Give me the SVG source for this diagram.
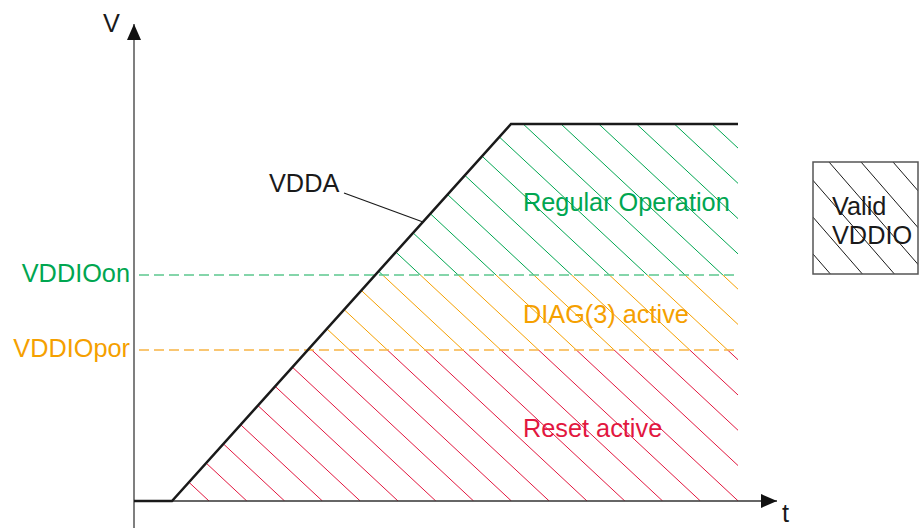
<svg xmlns="http://www.w3.org/2000/svg" xmlns:xlink="http://www.w3.org/1999/xlink" width="919" height="528" viewBox="0 0 919 528">
<style>
text{font-family:"Liberation Sans",Arial,sans-serif;font-size:25.3px}
.green{fill:#00A651}.orange{fill:#F5A000}.red{fill:#E2173F}.black{fill:#1a1a1a}
.hatch line{stroke-width:1}
.dash{stroke-width:1.3;stroke-dasharray:10,5;fill:none}
</style>
<defs>
<marker id="arr" markerWidth="16" markerHeight="14" refX="16" refY="7" orient="auto" markerUnits="userSpaceOnUse">
<path d="M0,0 L16,7 L0,14 Z" fill="#111"/>
</marker>
<g id="hl">
<line x1="171.2" y1="501" x2="-232.8" y2="124"/>
<line x1="209" y1="501" x2="-195" y2="124"/>
<line x1="246.8" y1="501" x2="-157.2" y2="124"/>
<line x1="284.6" y1="501" x2="-119.4" y2="124"/>
<line x1="322.4" y1="501" x2="-81.6" y2="124"/>
<line x1="360.2" y1="501" x2="-43.8" y2="124"/>
<line x1="398" y1="501" x2="-6" y2="124"/>
<line x1="435.8" y1="501" x2="31.8" y2="124"/>
<line x1="473.6" y1="501" x2="69.6" y2="124"/>
<line x1="511.4" y1="501" x2="107.4" y2="124"/>
<line x1="549.2" y1="501" x2="145.2" y2="124"/>
<line x1="587" y1="501" x2="183" y2="124"/>
<line x1="624.8" y1="501" x2="220.8" y2="124"/>
<line x1="662.6" y1="501" x2="258.6" y2="124"/>
<line x1="700.4" y1="501" x2="296.4" y2="124"/>
<line x1="738.2" y1="501" x2="334.2" y2="124"/>
<line x1="776" y1="501" x2="372" y2="124"/>
<line x1="813.8" y1="501" x2="409.8" y2="124"/>
<line x1="851.6" y1="501" x2="447.6" y2="124"/>
<line x1="889.4" y1="501" x2="485.4" y2="124"/>
<line x1="927.2" y1="501" x2="523.2" y2="124"/>
<line x1="965" y1="501" x2="561" y2="124"/>
<line x1="1002.8" y1="501" x2="598.8" y2="124"/>
<line x1="1040.6" y1="501" x2="636.6" y2="124"/>
<line x1="1078.4" y1="501" x2="674.4" y2="124"/>
<line x1="1116.2" y1="501" x2="712.2" y2="124"/>
</g>
<clipPath id="cg"><polygon points="375.2,275 511,124 738,124 738,275"/></clipPath>
<clipPath id="co"><polygon points="307.8,350 375.2,275 738,275 738,350"/></clipPath>
<clipPath id="cr"><polygon points="172,501 307.8,350 738,350 738,501"/></clipPath>
<clipPath id="cb"><rect x="813" y="162" width="105" height="112"/></clipPath>
</defs>

<g id="hatching" class="hatch">
<use xlink:href="#hl" href="#hl" stroke="#00A651" clip-path="url(#cg)"/>
<use xlink:href="#hl" href="#hl" stroke="#F5A000" clip-path="url(#co)"/>
<use xlink:href="#hl" href="#hl" stroke="#E2173F" clip-path="url(#cr)"/>
</g>

<g id="thresholds">
<line class="dash" x1="139" y1="275" x2="738" y2="275" stroke="#5CC78E"/>
<line class="dash" x1="139" y1="350" x2="738" y2="350" stroke="#F7B444"/>
</g>

<g id="axes">
<line x1="134" y1="528" x2="134" y2="24" stroke="#555" stroke-width="1.5" marker-end="url(#arr)"/>
<line x1="134" y1="501" x2="777" y2="501" stroke="#333" stroke-width="1.5" marker-end="url(#arr)"/>
<text x="103" y="32" class="black">V</text>
<text x="782" y="522" class="black">t</text>
</g>

<g id="vdda">
<polyline points="134,501 172,501 511,124 738,124" fill="none" stroke="#1a1a1a" stroke-width="2.5"/>
<text x="269" y="192" class="black">VDDA</text>
</g>

<g id="connectors">
<line x1="344" y1="193" x2="423" y2="222" stroke="#1a1a1a" stroke-width="1.2"/>
</g>

<g id="labels">
<text x="130" y="282" text-anchor="end" class="green">VDDIOon</text>
<text x="130" y="357" text-anchor="end" class="orange">VDDIOpor</text>
<text x="523" y="211" class="green">Regular Operation</text>
<text x="523" y="323" class="orange">DIAG(3) active</text>
<text x="523" y="437" class="red">Reset active</text>
</g>

<g id="legend">
<g clip-path="url(#cb)" stroke="#1a1a1a" stroke-width="1">
<line x1="669" y1="162" x2="766.4" y2="274"/>
<line x1="701" y1="162" x2="798.4" y2="274"/>
<line x1="733" y1="162" x2="830.4" y2="274"/>
<line x1="765" y1="162" x2="862.4" y2="274"/>
<line x1="797" y1="162" x2="894.4" y2="274"/>
<line x1="829" y1="162" x2="926.4" y2="274"/>
<line x1="861" y1="162" x2="958.4" y2="274"/>
<line x1="893" y1="162" x2="990.4" y2="274"/>
</g>
<rect x="813" y="162" width="105" height="112" fill="none" stroke="#555" stroke-width="1.5"/>
<text x="832" y="215" class="black">Valid</text>
<text x="832" y="244" class="black">VDDIO</text>
</g>
</svg>
